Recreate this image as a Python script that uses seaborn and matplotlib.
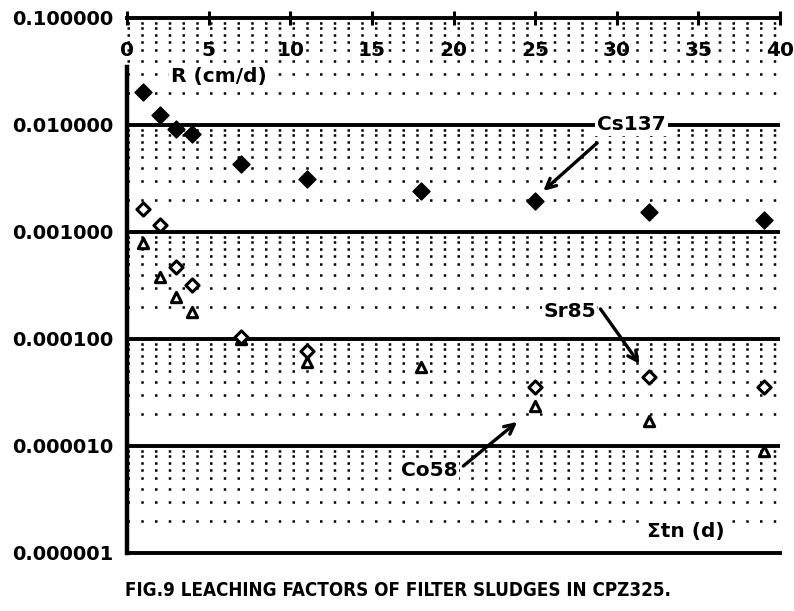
import numpy as np
import pandas as pd
import matplotlib
matplotlib.use('Agg')
import matplotlib.pyplot as plt
import seaborn as sns
from matplotlib.ticker import FixedLocator, NullFormatter

# ---- data ----
t_cs = [1, 2, 3, 4, 7, 11, 18, 25, 32, 39]
cs137 = [0.0203, 0.0124, 0.0092, 0.0082, 0.00432, 0.00313, 0.00242, 0.00195, 0.00154, 0.00129]
t_sr = [1, 2, 3, 4, 7, 11, 25, 32, 39]
sr85 = [0.00164, 0.00116, 0.00047, 0.00032, 0.000105, 0.0000775, 0.0000356, 0.0000442, 0.0000356]
t_co = [1, 2, 3, 4, 7, 11, 18, 25, 32, 39]
co58 = [0.00079, 0.00038, 0.000247, 0.000179, 0.0001, 0.000061, 0.0000547, 0.0000237, 0.0000171, 0.0000090]

x_ticks = [0, 5, 10, 15, 20, 25, 30, 35, 40]
y_ticks = [1e-6, 1e-5, 1e-4, 1e-3, 1e-2, 1e-1]
y_tick_labels = ["0.000001", "0.000010", "0.000100", "0.001000", "0.010000", "0.100000"]
caption = "FIG.9 LEACHING FACTORS OF FILTER SLUDGES IN CPZ325."

sns.set_style("white")
plt.rcParams['font.family'] = ['DejaVu Sans']
plt.rcParams['font.weight'] = 'bold'
for k in ['text.color', 'axes.labelcolor', 'xtick.color', 'ytick.color', 'axes.edgecolor']:
    plt.rcParams[k] = 'black'

fig = plt.figure(figsize=(7.94, 6.11), dpi=100)
ax = fig.add_axes([127/794, 1-553/611, (780-127)/794, (553-18)/611])

ax.set_yscale('log')
ax.set_xlim(0, 40)
ax.set_ylim(1e-6, 0.1)

# grid: dotted minors, solid decades
minor_vals = [m * 10.0**e for e in range(-6, -1) for m in range(2, 10)]
for v in minor_vals:
    ax.axhline(v, color='black', lw=1.8, ls=(0, (1, 4.5)), zorder=1)
for v in y_ticks[1:-1]:
    ax.axhline(v, color='black', lw=2.8, zorder=1.5)

# data points
df_cs = pd.DataFrame({'t': t_cs, 'R': cs137})
df_sr = pd.DataFrame({'t': t_sr, 'R': sr85})
df_co = pd.DataFrame({'t': t_co, 'R': co58})
sns.scatterplot(data=df_co, x='t', y='R', marker='^', s=55, color='white',
                edgecolor='black', linewidth=2.2, ax=ax, zorder=4, clip_on=False)
sns.scatterplot(data=df_sr, x='t', y='R', marker='D', s=45, color='white',
                edgecolor='black', linewidth=2.2, ax=ax, zorder=4, clip_on=False)
sns.scatterplot(data=df_cs, x='t', y='R', marker='D', s=75, color='black',
                edgecolor='black', linewidth=1, ax=ax, zorder=4, clip_on=False)

# spines
ax.spines['right'].set_visible(False)
ax.spines['top'].set_linewidth(2.8)
ax.spines['bottom'].set_linewidth(2.8)
ax.spines['left'].set_linewidth(3.2)
ax.spines['left'].set_bounds(1e-6, 0.035)

# x ticks on top, labels inside
ax.xaxis.tick_top()
ax.set_xticks(x_ticks)
ax.set_xticklabels([str(v) for v in x_ticks], fontsize=14.5, fontweight='heavy')
ax.tick_params(axis='x', top=True, bottom=False, labeltop=True, labelbottom=False,
               direction='inout', length=10, width=2.2, pad=-35)

ax.yaxis.set_major_locator(FixedLocator(y_ticks))
ax.set_yticklabels(y_tick_labels, fontsize=14, fontweight='heavy')
ax.yaxis.set_minor_locator(FixedLocator(minor_vals))
ax.yaxis.set_minor_formatter(NullFormatter())
ax.tick_params(axis='y', which='major', direction='out', length=5, width=2.2, pad=5)
ax.tick_params(axis='y', which='minor', direction='out', length=3, width=1.5)
ax.set_xlabel('')
ax.set_ylabel('')

# annotations
txt_kw = dict(fontsize=14.5, fontweight='heavy', ha='center', va='center', zorder=6)
ax.text(5.6, 0.0287, 'R (cm/d)', bbox=dict(fc='white', ec='none', pad=1), **txt_kw)
ax.text(34.2, 1.6e-6, 'Σtn (d)', bbox=dict(fc='white', ec='none', pad=1), **txt_kw)

arrow_open = dict(arrowstyle='->,head_length=0.7,head_width=0.35', lw=2.4, color='black',
                  shrinkA=0, shrinkB=0)
ax.annotate('', xy=(25.5, 0.00242), xytext=(28.8, 0.0068), arrowprops=arrow_open, zorder=5)
ax.text(30.9, 0.0101, 'Cs137', bbox=dict(fc='white', ec='none', pad=1.5), **txt_kw)
ax.annotate('', xy=(31.4, 0.0000584), xytext=(29.0, 0.000191), arrowprops=arrow_open, zorder=5)
ax.text(27.1, 0.000179, 'Sr85', bbox=dict(fc='white', ec='none', pad=1), **txt_kw)
ax.annotate('', xy=(23.9, 1.68e-5), xytext=(20.6, 6.5e-6), arrowprops=arrow_open, zorder=5)
ax.text(18.5, 5.84e-6, 'Co58', bbox=dict(fc='white', ec='none', pad=1), **txt_kw)

fig.text(398/794, 1-590/611, caption, ha='center', va='center', fontsize=13.5,
         fontweight='heavy', fontstretch='condensed')

fig.savefig('out.png', dpi=100)
